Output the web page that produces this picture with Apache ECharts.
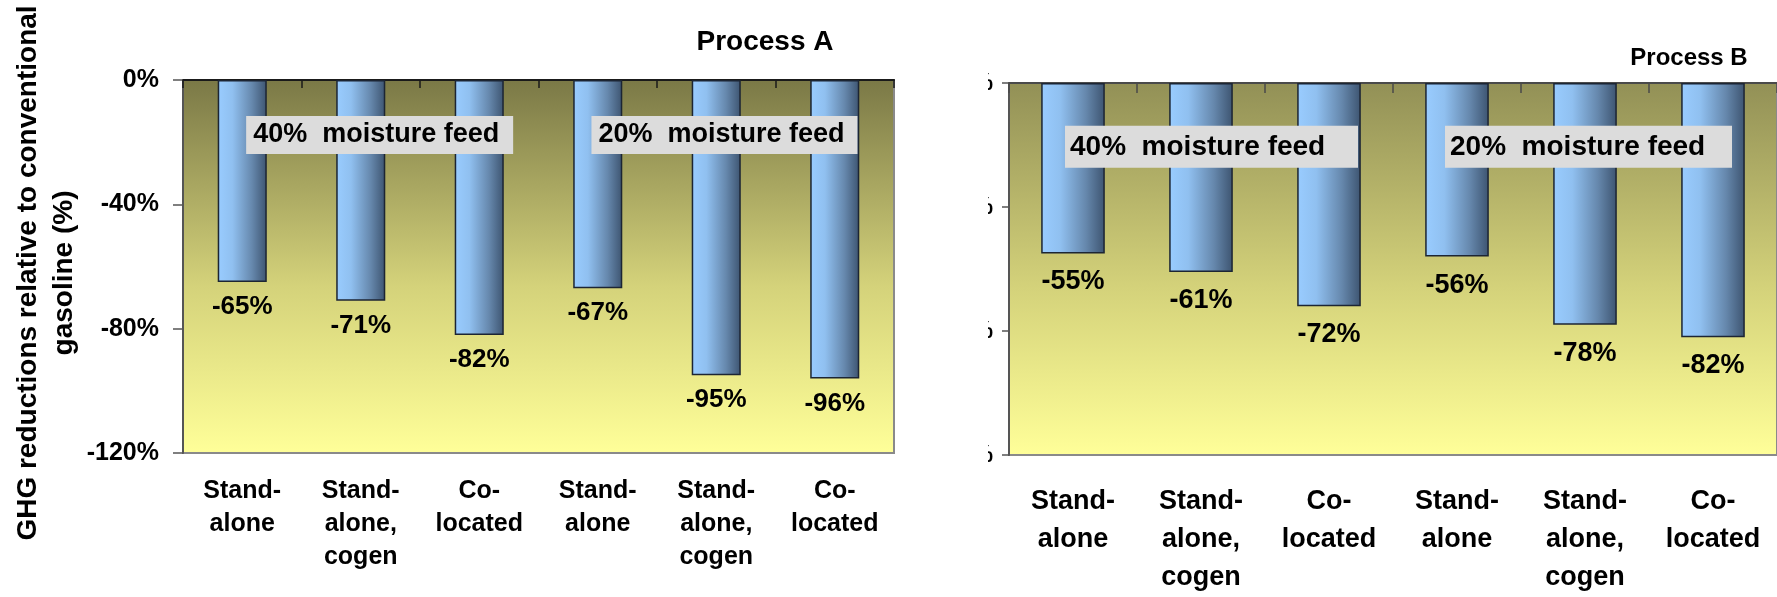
<!DOCTYPE html>
<html>
<head>
<meta charset="utf-8">
<script src="https://cdn.jsdelivr.net/npm/echarts@6/dist/echarts.min.js"></script>
<style>
  html, body { margin: 0; padding: 0; background: #ffffff; }
  #chart { width: 1777px; height: 597px; }
</style>
</head>
<body>
<div id="chart"></div>
<script>
// Plant configurations (two feed-moisture cases, three configurations each)
const categories = ['Stand-\nalone', 'Stand-\nalone,\ncogen', 'Co-\nlocated',
                    'Stand-\nalone', 'Stand-\nalone,\ncogen', 'Co-\nlocated'];
// GHG reductions relative to conventional gasoline (%)
const processA = [-65, -71, -82, -67, -95, -96];
const processB = [-55, -61, -72, -56, -78, -82];
const yTicks = { min: -120, max: 0, interval: 40 };
const panelTitles = ['Process A', 'Process B'];
const feedLabels = ['40%  moisture feed', '20%  moisture feed'];
const yAxisTitle = 'GHG reductions relative to conventional\ngasoline (%)';

const FONT = "'Liberation Sans', Arial, Helvetica, sans-serif";

const plotBg = (top) => new echarts.graphic.LinearGradient(0, 0, 0, 1, [
  { offset: 0, color: top },
  { offset: 0.55, color: '#d4d27a' },
  { offset: 1, color: '#ffff99' }
]);

const barFill = new echarts.graphic.LinearGradient(0, 0, 1, 0, [
  { offset: 0, color: '#99ccff' },
  { offset: 0.3, color: '#90c0f0' },
  { offset: 0.7, color: '#6688ad' },
  { offset: 1, color: '#3d5470' }
]);

// grey annotation boxes naming the feed-moisture case, anchored to a category
function feedMarks(pcs, valueY, offsets, fontSize, widths, heights, pads) {
  return {
    symbol: 'rect',
    symbolSize: 0,
    silent: true,
    data: pcs.map((idx, i) => ({
      coord: [idx, valueY],
      label: {
        show: true,
        formatter: feedLabels[i],
        position: 'inside',
        align: 'left',
        verticalAlign: 'middle',
        offset: [offsets[i], 0],
        width: widths[i],
        height: heights,
        lineHeight: heights,
        padding: pads,
        backgroundColor: '#dcdcdc',
        color: '#000',
        fontFamily: FONT,
        fontWeight: 'bold',
        fontSize: fontSize
      }
    }))
  };
}

const chart = echarts.init(document.getElementById('chart'), null, { renderer: 'canvas' });

const option = {
  animation: false,
  backgroundColor: '#ffffff',
  title: [
    { text: panelTitles[0], left: 760, top: 23, textAlign: 'center',
      textStyle: { fontFamily: FONT, fontWeight: 'bold', fontSize: 28, color: '#000' } },
    { text: panelTitles[1], left: 1684, top: 41, textAlign: 'center',
      textStyle: { fontFamily: FONT, fontWeight: 'bold', fontSize: 24, color: '#000' } }
  ],
  grid: [
    { left: 183, top: 80, width: 711, height: 373, show: true,
      backgroundColor: plotBg('#7a7846'), borderColor: '#8a8a8a', borderWidth: 2 },
    { left: 1009, top: 83, width: 768, height: 372, show: true,
      backgroundColor: plotBg('#929056'), borderColor: '#8a8a8a', borderWidth: 2 }
  ],
  xAxis: [
    // bottom category labels
    { type: 'category', gridIndex: 0, data: categories, position: 'bottom',
      axisLine: { show: false, onZero: false }, axisTick: { show: false },
      axisLabel: { margin: 22, fontFamily: FONT, fontWeight: 'bold', fontSize: 25,
                   lineHeight: 33, color: '#000', interval: 0, verticalAlign: 'top' } },
    // top line at zero with boundary ticks
    { type: 'category', gridIndex: 0, data: categories, position: 'top',
      axisLine: { show: true, onZero: false, lineStyle: { color: '#1a1a1a', width: 2 } },
      axisTick: { show: true, inside: true, length: 8, lineStyle: { color: '#1a1a1a', width: 1.5 } },
      axisLabel: { show: false } },
    { type: 'category', gridIndex: 1, data: categories, position: 'bottom',
      axisLine: { show: false, onZero: false }, axisTick: { show: false },
      axisLabel: { margin: 28, fontFamily: FONT, fontWeight: 'bold', fontSize: 27,
                   lineHeight: 38, color: '#000', interval: 0, verticalAlign: 'top' } },
    { type: 'category', gridIndex: 1, data: categories, position: 'top',
      axisLine: { show: true, onZero: false, lineStyle: { color: '#4a4a4a', width: 2 } },
      axisTick: { show: true, inside: true, length: 10, lineStyle: { color: '#4a4a4a', width: 1.5 } },
      axisLabel: { show: false } }
  ],
  yAxis: [
    { type: 'value', gridIndex: 0, min: yTicks.min, max: yTicks.max, interval: yTicks.interval,
      axisLine: { show: true, lineStyle: { color: '#555', width: 2 } },
      axisTick: { show: true, length: 10, lineStyle: { color: '#555', width: 1.5 } },
      splitLine: { show: false },
      axisLabel: { margin: 24, formatter: '{value}%', fontFamily: FONT, fontWeight: 'bold',
                   fontSize: 25, color: '#000' } },
    { type: 'value', gridIndex: 1, min: yTicks.min, max: yTicks.max, interval: yTicks.interval,
      axisLine: { show: true, lineStyle: { color: '#555', width: 2 } },
      axisTick: { show: true, length: 7, lineStyle: { color: '#555', width: 1.5 } },
      splitLine: { show: false },
      axisLabel: { margin: 16, formatter: '{value}%', fontFamily: FONT, fontWeight: 'bold',
                   fontSize: 24, color: '#000' } }
  ],
  series: [
    { type: 'bar', xAxisIndex: 0, yAxisIndex: 0, data: processA, barWidth: '41.4%',
      itemStyle: { color: barFill, borderColor: '#1c2533', borderWidth: 1.5 },
      label: { show: true, position: 'bottom', distance: 12, formatter: (p) => p.value + '%',
               fontFamily: FONT, fontWeight: 'bold', fontSize: 26, color: '#000' },
      markPoint: feedMarks([1, 4], -17.7, [-114.6, -124.8], 27, [260, 259], 30, [4, 0, 4, 7]) },
    { type: 'bar', xAxisIndex: 2, yAxisIndex: 1, data: processB, barWidth: '49.7%',
      itemStyle: { color: barFill, borderColor: '#1c2533', borderWidth: 1.5 },
      label: { show: true, position: 'bottom', distance: 15, formatter: (p) => p.value + '%',
               fontFamily: FONT, fontWeight: 'bold', fontSize: 27, color: '#000' },
      markPoint: feedMarks([1, 4], -20.6, [-136, -140], 28, [288, 282], 30, [6, 0, 6, 5]) }
  ],
  graphic: [
    // shared y-axis title (two rotated lines)
    { type: 'text', x: 46, y: 273, rotation: Math.PI / 2, z: 50,
      style: { text: yAxisTitle, textAlign: 'center', textVerticalAlign: 'middle',
               font: "bold 28px " + FONT, lineHeight: 36, fill: '#000' } },
    // blank strip between the two panels (clips the second panel's tick labels)
    { type: 'rect', shape: { x: 898, y: 60, width: 90, height: 420 }, z: 100,
      style: { fill: '#ffffff' } }
  ]
};

chart.setOption(option);
</script>
</body>
</html>
